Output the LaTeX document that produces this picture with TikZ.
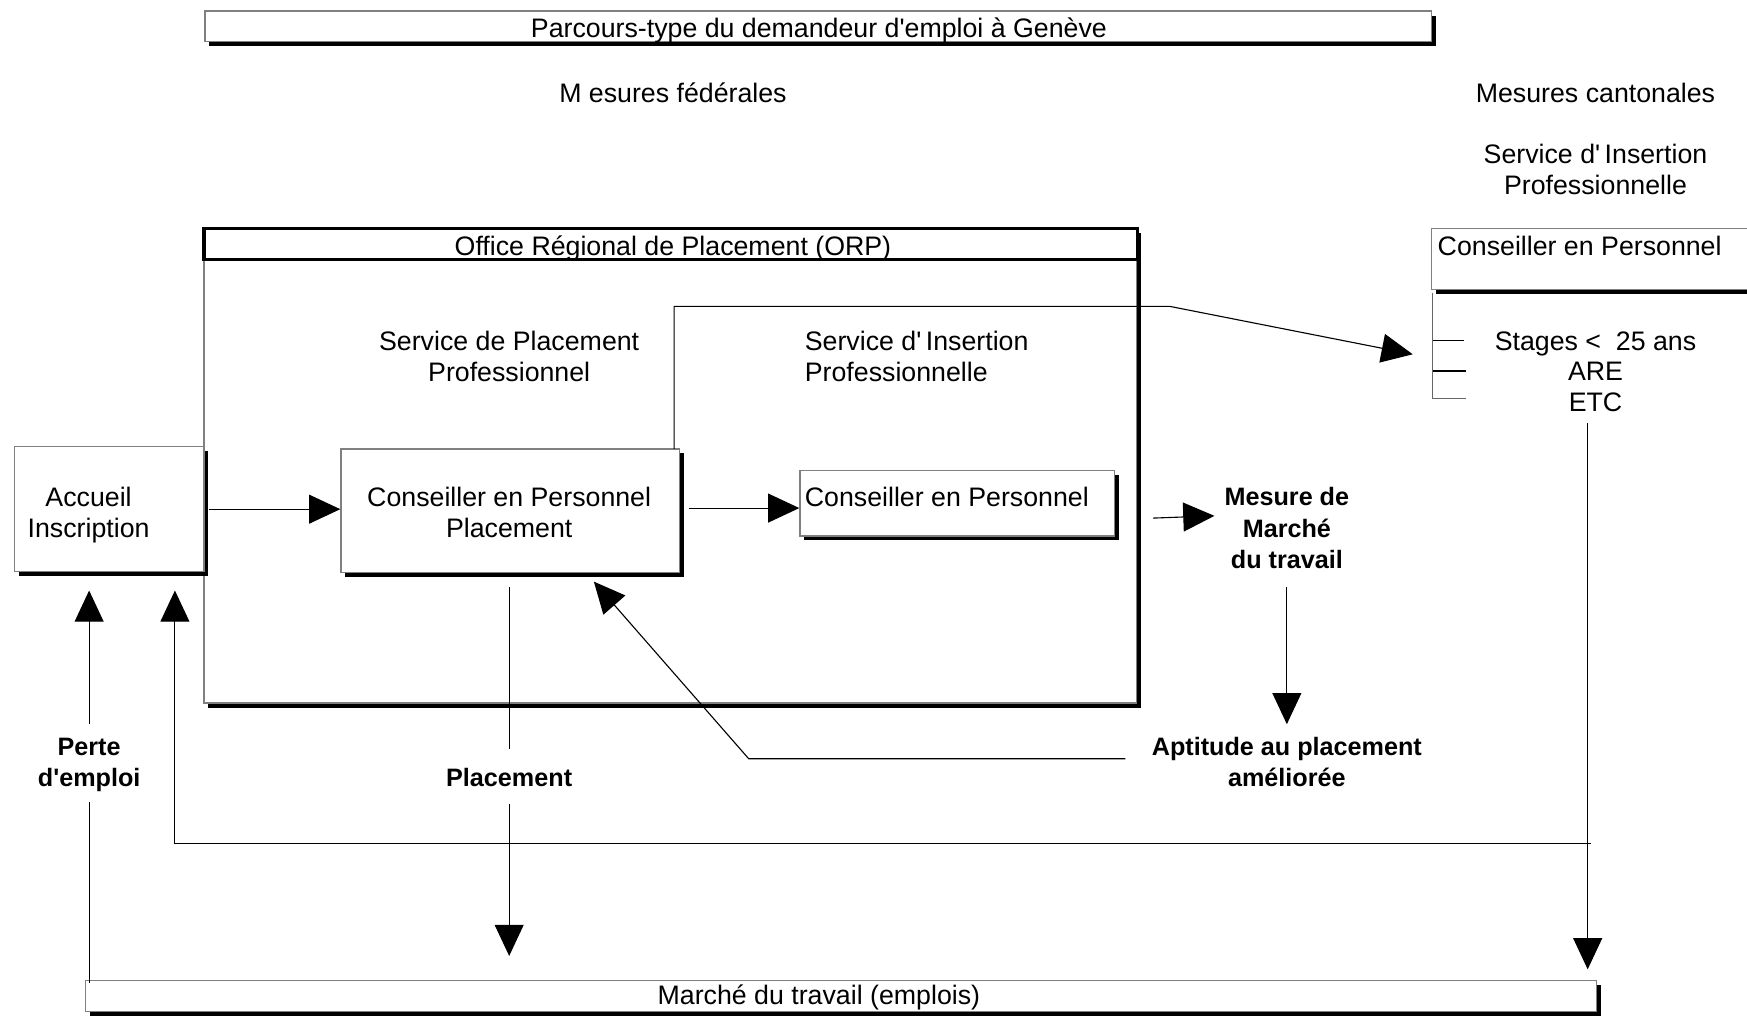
\documentclass[tikz,border=0pt]{standalone}
\usepackage{fontspec}
\setmainfont{Liberation Sans}
\usetikzlibrary{arrows.meta,shadows}
\begin{document}
\begin{tikzpicture}[x=0.5pt,y=-0.5pt,
  txt/.style={inner sep=0pt, text height=8.6pt, text depth=0pt, font=\fontsize{12}{14}\selectfont},
  btxt/.style={inner sep=0pt, text height=8.1pt, text depth=0pt, font=\fontsize{11.3}{14}\selectfont\bfseries},
  conn/.style={line width=0.5pt, draw=black},
  arr/.style={conn, -{Triangle[length=14pt,width=13pt]}},
  sbox/.style={draw=black!50, line width=0.6pt, fill=white, inner sep=0pt,
    drop shadow={opacity=1, fill=black, shadow xshift=2pt, shadow yshift=-2pt}},
  hbox/.style={draw=black, line width=1.6pt, fill=white, inner sep=0pt},
]
\useasboundingbox (0,0) rectangle (1568,911);

% title
\node[sbox, minimum width=550.5pt, minimum height=13.5pt] (titlebox) at (734.5,23.5) {};
\node[txt] (title) at (735,25) {Parcours-type du demandeur d\textquotesingle emploi à Genève};

\node[txt] (fed) at (604,83) {M esures fédérales};
\node[txt] (cant) at (1432,83) {Mesures cantonales};
\node[txt] (sipr1) at (1432,138) {Service d\textquotesingle\,Insertion};
\node[txt] (sipr2) at (1432,166) {Professionnelle};

% ORP
\node[sbox, minimum width=418.5pt, minimum height=213pt] (orp) at (601.5,418) {};
\node[hbox, minimum width=419pt, minimum height=14pt] (orphead) at (602,219) {};
\node[txt] (orptxt) at (604,221) {Office Régional de Placement (ORP)};

\node[txt] (spp1) at (457,306) {Service de Placement};
\node[txt] (spp2) at (457,334) {Professionnel};
\node[txt, anchor=west] (sip1) at (722,306) {Service d\textquotesingle\,Insertion};
\node[txt, anchor=west] (sip2) at (722,334) {Professionnelle};

% right box
\node[sbox, minimum width=150pt, minimum height=27.5pt] (cpr) at (1435,232.5) {};
\node[txt, anchor=west] (cprtxt) at (1290,221) {Conseiller en Personnel};
\coordinate (br0) at (1286,263);
\coordinate (br1) at (1286,306);
\coordinate (br2) at (1286,333);
\coordinate (br3) at (1286,358);
\draw[conn, draw=black!60] (br0) -- (br3) -- ++(30,0);
\draw[conn] (br1) -- ++(28,0);
\draw[conn] (br2) -- ++(30,0);
\node[txt] (st) at (1432,306) {Stages <~~25 ans};
\node[txt] (are) at (1432,333) {ARE};
\node[txt] (etc) at (1432,361) {ETC};

% boxes
\node[sbox, minimum width=85pt, minimum height=56pt] (acc) at (98,457) {};
\node[txt] (acc1) at (79.5,446) {Accueil};
\node[txt] (acc2) at (79.5,474) {Inscription};

\node[sbox, minimum width=152pt, minimum height=55.5pt] (cpp) at (458,458.5) {};
\node[txt] (cpp1) at (457,446) {Conseiller en Personnel};
\node[txt] (cpp2) at (457,474) {Placement};

\node[sbox, minimum width=141pt, minimum height=29.5pt] (cpi) at (859,451.5) {};
\node[txt, anchor=west] (cpi1) at (722,446) {Conseiller en Personnel};

\node[btxt] (mes1) at (1155,446) {Mesure de};
\node[btxt] (mes2) at (1155,474) {Marché};
\node[btxt] (mes3) at (1155,502) {du travail};

\node[btxt] (apt1) at (1155,670) {Aptitude au placement};
\node[btxt] (apt2) at (1155,698) {améliorée};

\node[btxt] (plc) at (457,698) {Placement};
\node[btxt] (per1) at (80,670) {Perte};
\node[btxt] (per2) at (80,698) {d\textquotesingle emploi};

\node[sbox, minimum width=678pt, minimum height=14pt] (mar) at (755,894) {};
\node[txt] (martxt) at (735,893) {Marché du travail (emplois)};

% connectors
\draw[arr] ([xshift=2pt]acc.east) -- (acc.east -| cpp.west);
\coordinate (c2a) at (618,456);
\draw[arr] (c2a) -- (cpi.west |- c2a);

\coordinate (s0) at (605,403);
\coordinate (s1) at (605,275);
\coordinate (s2) at (1050,275);
\coordinate (s3) at (1268,318);
\draw[arr] (s0) -- (s1) -- (s2) -- (s3);

\coordinate (m0) at (1035,465);
\coordinate (m1) at (1090,463);
\draw[arr] (m0) -- (m1);
\coordinate (d0) at (1155,527);
\coordinate (d1) at (1155,650);
\draw[arr] (d0) -- (d1);

\coordinate (a0) at (1010,681);
\coordinate (a1) at (672,681);
\coordinate (a2) at (533,522);
\draw[arr] (a0) -- (a1) -- (a2);

\coordinate (p0) at (457,527);
\coordinate (p1) at (457,672);
\coordinate (p2) at (457,722);
\coordinate (p3) at (457,858);
\draw[conn] (p0) -- (p1);
\draw[arr] (p2) -- (p3);

\coordinate (e0) at (80,882);
\coordinate (e1) at (80,720);
\coordinate (e2) at (80,650);
\coordinate (e3) at (80,530);
\draw[conn] (e0) -- (e1);
\draw[arr] (e2) -- (e3);

\coordinate (r0) at (1425,380);
\coordinate (r1) at (1425,870);
\draw[arr] (r0) -- (r1);
\coordinate (l0) at (1428,757);
\coordinate (l1) at (157,757);
\coordinate (l2) at (157,530);
\draw[arr] (l0) -- (l1) -- (l2);
\end{tikzpicture}
\end{document}
